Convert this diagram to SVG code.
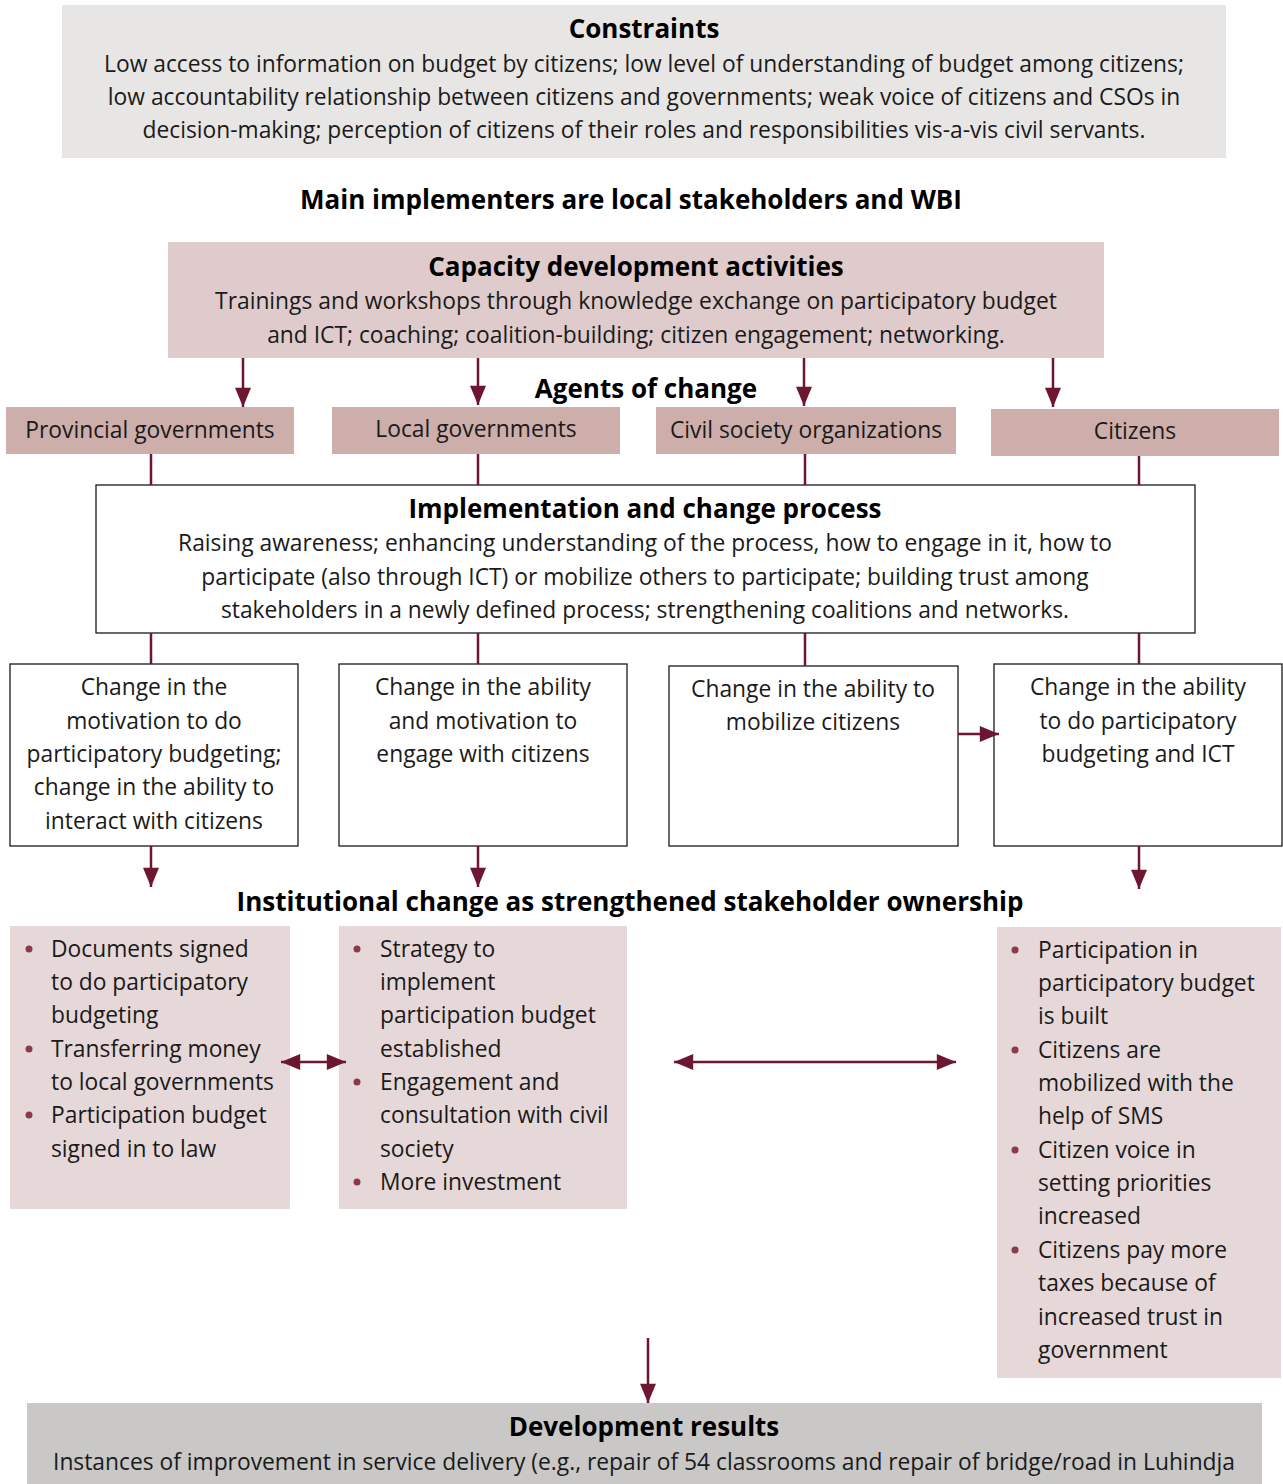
<svg xmlns="http://www.w3.org/2000/svg" width="1283" height="1484" viewBox="0 0 1283 1484">
<style>
text{font-family:"Open Sans",Lato,"Liberation Sans",sans-serif;fill:#1a1a1a}
.t{font-size:22.8px;text-anchor:middle}
.b{font-size:26px;font-weight:bold;text-anchor:middle;fill:#000}
.l{font-size:22.8px}
.ln{stroke:#6e1530;stroke-width:2.5;fill:none}
.box{fill:#fff;stroke:#1a1a1a;stroke-width:1.3}
.dot{fill:#8a3a48}
</style>
<defs>
<marker id="a" viewBox="0 0 12 10" refX="12" refY="5" markerWidth="20" markerHeight="16" markerUnits="userSpaceOnUse" orient="auto-start-reverse"><path d="M0,0 L12,5 L0,10 z" fill="#6e1530"/></marker>
</defs>

<g id="constraints">
<rect x="62" y="5" width="1164" height="153" fill="#e8e6e4"/>
<text class="b" x="644" y="38">Constraints</text>
<text class="t" x="644" y="72">Low access to information on budget by citizens; low level of understanding of budget among citizens;</text>
<text class="t" x="644" y="105">low accountability relationship between citizens and governments; weak voice of citizens and CSOs in</text>
<text class="t" x="644" y="138">decision-making; perception of citizens of their roles and responsibilities vis-a-vis civil servants.</text>
</g>

<g id="implementers"><text class="b" x="631" y="209">Main implementers are local stakeholders and WBI</text></g>

<g id="capacity">
<rect x="168" y="242" width="936" height="116" fill="#dfcbcb"/>
<text class="b" x="636" y="276">Capacity development activities</text>
<text class="t" x="636" y="309">Trainings and workshops through knowledge exchange on participatory budget</text>
<text class="t" x="636" y="343">and ICT; coaching; coalition-building; citizen engagement; networking.</text>
</g>

<g id="agents-label"><text class="b" x="646" y="398">Agents of change</text></g>

<g id="provincial"><rect x="6" y="407" width="288" height="47" fill="#cdaeab"/><text class="t" x="150" y="438">Provincial governments</text></g>
<g id="local"><rect x="332" y="407" width="288" height="47" fill="#cdaeab"/><text class="t" x="476" y="437">Local governments</text></g>
<g id="cso"><rect x="656" y="407" width="300" height="47" fill="#cdaeab"/><text class="t" x="806" y="438">Civil society organizations</text></g>
<g id="citizens"><rect x="991" y="409" width="288" height="47" fill="#cdaeab"/><text class="t" x="1135" y="439">Citizens</text></g>

<g id="implementation">
<rect class="box" x="96" y="485" width="1099" height="148"/>
<text class="b" x="645" y="518">Implementation and change process</text>
<text class="t" x="645" y="551">Raising awareness; enhancing understanding of the process, how to engage in it, how to</text>
<text class="t" x="645" y="585">participate (also through ICT) or mobilize others to participate; building trust among</text>
<text class="t" x="645" y="618">stakeholders in a newly defined process; strengthening coalitions and networks.</text>
</g>

<g id="change1">
<rect class="box" x="10" y="664" width="288" height="182"/>
<text class="t" x="154" y="695">Change in the</text>
<text class="t" x="154" y="729">motivation to do</text>
<text class="t" x="154" y="762">participatory budgeting;</text>
<text class="t" x="154" y="795">change in the ability to</text>
<text class="t" x="154" y="829">interact with citizens</text>
</g>
<g id="change2">
<rect class="box" x="339" y="664" width="288" height="182"/>
<text class="t" x="483" y="695">Change in the ability</text>
<text class="t" x="483" y="729">and motivation to</text>
<text class="t" x="483" y="762">engage with citizens</text>
</g>
<g id="change3">
<rect class="box" x="669" y="666" width="289" height="180"/>
<text class="t" x="813" y="697">Change in the ability to</text>
<text class="t" x="813" y="730">mobilize citizens</text>
</g>
<g id="change4">
<rect class="box" x="994" y="664" width="288" height="182"/>
<text class="t" x="1138" y="695">Change in the ability</text>
<text class="t" x="1138" y="729">to do participatory</text>
<text class="t" x="1138" y="762">budgeting and ICT</text>
</g>

<g id="institutional-label"><text class="b" x="630" y="911">Institutional change as strengthened stakeholder ownership</text></g>

<g id="inst1">
<rect x="10" y="926" width="280" height="283" fill="#e6d8d8"/>
<circle class="dot" cx="29" cy="949" r="3.5"/><circle class="dot" cx="29" cy="1049" r="3.5"/><circle class="dot" cx="29" cy="1115" r="3.5"/>
<text class="l" x="51" y="957">Documents signed</text>
<text class="l" x="51" y="990">to do participatory</text>
<text class="l" x="51" y="1023">budgeting</text>
<text class="l" x="51" y="1057">Transferring money</text>
<text class="l" x="51" y="1090">to local governments</text>
<text class="l" x="51" y="1123">Participation budget</text>
<text class="l" x="51" y="1157">signed in to law</text>
</g>
<g id="inst2">
<rect x="339" y="926" width="288" height="283" fill="#e6d8d8"/>
<circle class="dot" cx="357" cy="949" r="3.5"/><circle class="dot" cx="357" cy="1082" r="3.5"/><circle class="dot" cx="357" cy="1182" r="3.5"/>
<text class="l" x="380" y="957">Strategy to</text>
<text class="l" x="380" y="990">implement</text>
<text class="l" x="380" y="1023">participation budget</text>
<text class="l" x="380" y="1057">established</text>
<text class="l" x="380" y="1090">Engagement and</text>
<text class="l" x="380" y="1123">consultation with civil</text>
<text class="l" x="380" y="1157">society</text>
<text class="l" x="380" y="1190">More investment</text>
</g>
<g id="inst3">
<rect x="997" y="927" width="284" height="451" fill="#e6d8d8"/>
<circle class="dot" cx="1015" cy="950" r="3.5"/><circle class="dot" cx="1015" cy="1050" r="3.5"/><circle class="dot" cx="1015" cy="1150" r="3.5"/><circle class="dot" cx="1015" cy="1250" r="3.5"/>
<text class="l" x="1038" y="958">Participation in</text>
<text class="l" x="1038" y="991">participatory budget</text>
<text class="l" x="1038" y="1024">is built</text>
<text class="l" x="1038" y="1058">Citizens are</text>
<text class="l" x="1038" y="1091">mobilized with the</text>
<text class="l" x="1038" y="1124">help of SMS</text>
<text class="l" x="1038" y="1158">Citizen voice in</text>
<text class="l" x="1038" y="1191">setting priorities</text>
<text class="l" x="1038" y="1224">increased</text>
<text class="l" x="1038" y="1258">Citizens pay more</text>
<text class="l" x="1038" y="1291">taxes because of</text>
<text class="l" x="1038" y="1325">increased trust in</text>
<text class="l" x="1038" y="1358">government</text>
</g>

<g id="results">
<rect x="27" y="1403" width="1235" height="90" fill="#c9c8c7"/>
<text class="b" x="644" y="1436">Development results</text>
<text class="t" x="644" y="1470">Instances of improvement in service delivery (e.g., repair of 54 classrooms and repair of bridge/road in Luhindja</text>
</g>

<g id="connectors">
<line class="ln" x1="243" y1="358" x2="243" y2="407" marker-end="url(#a)"/>
<line class="ln" x1="478" y1="358" x2="478" y2="405" marker-end="url(#a)"/>
<line class="ln" x1="804" y1="358" x2="804" y2="406" marker-end="url(#a)"/>
<line class="ln" x1="1053" y1="358" x2="1053" y2="407" marker-end="url(#a)"/>
<line class="ln" x1="151" y1="454" x2="151" y2="485"/>
<line class="ln" x1="478" y1="454" x2="478" y2="485"/>
<line class="ln" x1="805" y1="454" x2="805" y2="485"/>
<line class="ln" x1="1139" y1="456" x2="1139" y2="485"/>
<line class="ln" x1="151" y1="633" x2="151" y2="664"/>
<line class="ln" x1="478" y1="633" x2="478" y2="664"/>
<line class="ln" x1="805" y1="633" x2="805" y2="666"/>
<line class="ln" x1="1139" y1="633" x2="1139" y2="664"/>
<line class="ln" x1="958" y1="734" x2="999" y2="734" marker-end="url(#a)"/>
<line class="ln" x1="151" y1="846" x2="151" y2="887" marker-end="url(#a)"/>
<line class="ln" x1="478" y1="846" x2="478" y2="887" marker-end="url(#a)"/>
<line class="ln" x1="1139" y1="846" x2="1139" y2="889" marker-end="url(#a)"/>
<line class="ln" x1="281" y1="1062" x2="346" y2="1062" marker-start="url(#a)" marker-end="url(#a)"/>
<line class="ln" x1="674" y1="1062" x2="956" y2="1062" marker-start="url(#a)" marker-end="url(#a)"/>
<line class="ln" x1="648" y1="1338" x2="648" y2="1403" marker-end="url(#a)"/>
</g>
</svg>
